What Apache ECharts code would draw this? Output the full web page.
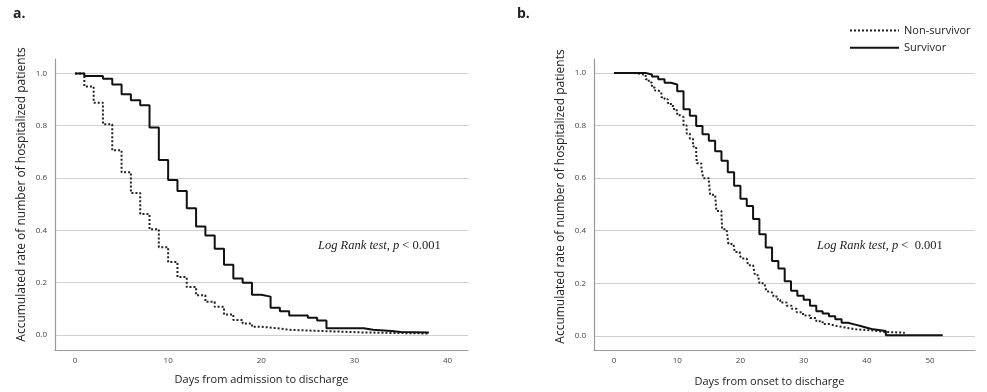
<!DOCTYPE html>
<html>
<head>
<meta charset="utf-8">
<script src="https://cdn.jsdelivr.net/npm/echarts@6/dist/echarts.min.js"></script>
<style>
html,body{margin:0;padding:0;background:#fff;}
#chart{width:987px;height:392px;}
</style>
</head>
<body>
<div id="chart"></div>
<script>
// ---- Data ----
// Panel a: Days from admission to discharge
const aSurvDays = [0,1,3,4,5,6,7,8,9,10,11,12,13,14,15,16,17,18,19,20,21,22,23,25,26,27,31,32,34,35,38];
const aSurvVals = [1.0,0.99,0.98,0.958,0.92,0.897,0.878,0.793,0.669,0.593,0.551,0.485,0.415,0.381,0.33,0.269,0.216,0.2,0.154,0.147,0.104,0.091,0.075,0.066,0.056,0.026,0.02,0.016,0.012,0.01,0.01];
const aNonDays = [0,1,2,3,4,5,6,7,8,9,10,11,12,13,14,15,16,17,18,19,20,22,23,27,31,38];
const aNonVals = [1.0,0.95,0.888,0.806,0.706,0.622,0.543,0.463,0.404,0.336,0.279,0.222,0.184,0.152,0.127,0.108,0.079,0.058,0.044,0.032,0.025,0.02,0.015,0.01,0.006,0.006];

// Panel b: Days from onset to discharge
const bSurvDays = [0,5,6,7,8,9,10,11,12,13,14,15,16,17,18,19,20,21,22,23,24,25,26,27,28,29,30,31,32,33,34,35,36,37,38,39,40,41,43,52];
const bSurvVals = [1.0,0.994,0.986,0.976,0.963,0.956,0.93,0.862,0.837,0.798,0.767,0.742,0.702,0.666,0.622,0.571,0.522,0.494,0.445,0.387,0.336,0.285,0.256,0.208,0.172,0.153,0.138,0.115,0.094,0.085,0.075,0.063,0.05,0.044,0.038,0.031,0.025,0.019,0.003,0.003];
const bNonDays = [0,3,4,5,5.5,6,6.5,7,7.5,8,8.5,9,9.5,10,10.5,11,11.5,12,12.5,13,13.1,13.8,14.1,15,15.2,16,16.2,17,17.1,17.8,18.1,18.9,19.1,19.9,20.2,21,21.2,22,22.3,22.8,23,23.8,24.1,24.6,25.2,25.9,26.3,27.3,28.1,28.9,29.9,31,32,33,34.1,35.2,36.8,38.3,40.9,43,46];
const bNonVals = [1.0,0.997,0.993,0.976,0.964,0.945,0.933,0.926,0.908,0.9,0.886,0.874,0.858,0.839,0.833,0.8,0.77,0.75,0.72,0.695,0.657,0.645,0.6,0.592,0.537,0.531,0.475,0.463,0.406,0.4,0.35,0.344,0.319,0.306,0.294,0.2875,0.269,0.2625,0.231,0.225,0.2,0.194,0.169,0.1625,0.15,0.1375,0.127,0.115,0.103,0.09,0.078,0.068,0.056,0.045,0.038,0.031,0.025,0.021,0.015,0.012,0.012];

const xTicksA = [0,10,20,30,40];
const xTicksB = [0,10,20,30,40,50];
const yTicks = [0,0.2,0.4,0.6,0.8,1.0];

const seriesNames = ['Non-survivor','Survivor'];
const xTitles = ['Days from admission to discharge','Days from onset to discharge'];
const yTitle = 'Accumulated rate of number of hospitalized patients';

// ---- Build ----
function pairs(d, v){ return d.map((x,i)=>[x, v[i]]); }

const FONT = '"Open Sans", "Noto Sans", sans-serif';
const axisLineStyle = {color:'#9a9a9a', width:1.2};
const labelStyle = {color:'#444', fontSize:8, fontFamily:FONT};

function xAxis(idx, min, max, ticks, title, pad, gap){
  return {
    type:'value', gridIndex:idx, min:min, max:max,
    axisLine:{show:true, onZero:false, lineStyle:axisLineStyle},
    axisTick:{show:false, customValues:ticks},
    axisLabel:Object.assign({customValues:ticks, margin:7}, labelStyle),
    splitLine:{show:false},
    name:title, nameLocation:'middle', nameGap:gap,
    nameTextStyle:{color:'#222', fontSize:11, fontFamily:FONT, padding:pad}
  };
}
function yAxis(idx, min, max, pad){
  return {
    type:'value', gridIndex:idx, min:min, max:max,
    axisLine:{show:true, onZero:false, lineStyle:axisLineStyle},
    axisTick:{show:false, customValues:yTicks},
    axisLabel:Object.assign({customValues:yTicks, margin:8, formatter:v=>v.toFixed(1)}, labelStyle),
    splitLine:{show:true, lineStyle:{color:'#cfcfcf', width:1.2}},
    name:yTitle, nameLocation:'middle', nameGap:27, nameRotate:90,
    nameTextStyle:{color:'#222', fontSize:12, fontFamily:FONT, padding:pad}
  };
}

const dotted = {color:'#222', width:2, type:[2,2]};
const solid = {color:'#111', width:2, type:'solid'};

function ser(name, idx, data, ls){
  return {name:name, type:'line', xAxisIndex:idx, yAxisIndex:idx, step:'end',
    symbol:'none', showSymbol:false, silent:true, data:data, lineStyle:ls,
    itemStyle:{color:'#111'}};
}

const annot = (left, top, rel) => ({
  type:'text', left:left, top:top, silent:true,
  style:{
    text:'{i|Log Rank test, p}{n| ' + rel + '0.001}',
    rich:{
      i:{fontFamily:'"Liberation Serif", serif', fontStyle:'italic', fontSize:12.5, fill:'#222'},
      n:{fontFamily:'"Liberation Serif", serif', fontSize:12.5, fill:'#222'}
    }
  }
});

const option = {
  backgroundColor:'#fff',
  animation:false,
  title:[
    {text:'a.', left:8, top:2, textStyle:{fontFamily:FONT, fontWeight:'bold', fontSize:14, color:'#222'}},
    {text:'b.', left:512, top:2, textStyle:{fontFamily:FONT, fontWeight:'bold', fontSize:14, color:'#222'}}
  ],
  legend:{
    orient:'vertical', left:844, top:20, itemWidth:49, itemHeight:14, itemGap:6,
    data:seriesNames,
    itemStyle:{color:'rgba(0,0,0,0)', borderWidth:0, opacity:0},
    textStyle:{color:'#222', fontSize:11, fontFamily:FONT},
    selectedMode:false
  },
  grid:[
    {left:55, top:59, width:413, height:291, containLabel:false},
    {left:594, top:59, width:381, height:296, containLabel:false}
  ],
  xAxis:[
    xAxis(0, -2.15, 42.2, xTicksA, xTitles[0], [0,0,0,0], 24),
    xAxis(1, -3.16, 57.1, xTicksB, xTitles[1], [0,30,0,0], 26)
  ],
  yAxis:[
    yAxis(0, -0.057, 1.055, [0,0,0,20]),
    yAxis(1, -0.0535, 1.053, [0,0,0,16])
  ],
  graphic:[annot(318, 239, '< '), annot(817, 239, '<  ')],
  series:[
    ser(seriesNames[0], 0, pairs(aNonDays, aNonVals), dotted),
    ser(seriesNames[1], 0, pairs(aSurvDays, aSurvVals), solid),
    ser(seriesNames[0], 1, pairs(bNonDays, bNonVals), dotted),
    ser(seriesNames[1], 1, pairs(bSurvDays, bSurvVals), solid)
  ]
};

const chart = echarts.init(document.getElementById('chart'), null, {renderer:'canvas'});
chart.setOption(option);
</script>
</body>
</html>
